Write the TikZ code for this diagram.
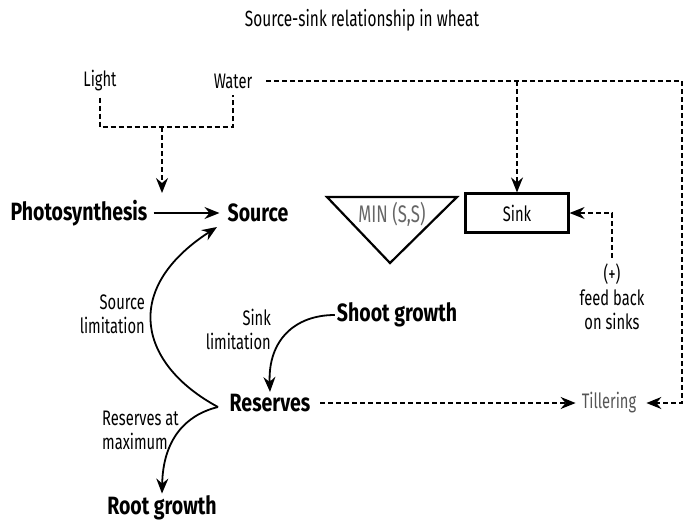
\documentclass[tikz,border=0pt]{standalone}
\usepackage{fontspec}
\setmainfont{Fira Sans}[FakeStretch=0.7, BoldFeatures={FakeStretch=0.78}]
\usetikzlibrary{arrows.meta}
\definecolor{tillgray}{HTML}{555555}
\definecolor{mingray}{HTML}{666666}
\tikzset{
  bigtext/.style={font=\bfseries\fontsize{25}{27}\selectfont, inner sep=2pt},
  plaintext/.style={font=\fontsize{21}{23}\selectfont, inner sep=2pt},
  notetext/.style={font=\fontsize{21}{24}\selectfont, inner sep=1pt},
  boxline/.style={line width=2.2pt},
  solidarrow/.style={line width=1.8pt, -{Stealth[length=15pt,width=12pt,inset=5pt]}},
  dashline/.style={line width=1.8pt, dash pattern=on 5pt off 3pt},
  dasharrow/.style={dashline, -{Stealth[length=15pt,width=12pt,inset=5pt]}},
}
\begin{document}
\begin{tikzpicture}[x=1pt, y=-1pt]
    \useasboundingbox (0,0) rectangle (689,523);

    % Titulo
    \node[plaintext, font=\fontsize{22}{24}\selectfont] (title) at (362,20)
         {Source-sink relationship in wheat};

    % Luz y agua
    \node[plaintext] (light) at (100,81) {Light};
    \node[plaintext] (water) at (233,81) {Water};
    \coordinate (bracketmid) at (162,127);
    \coordinate (photoin) at (162,193);
    \draw[dashline] ([yshift=-4pt]light.south) |- (bracketmid) -| ([yshift=-4pt]water.south);
    \draw[dasharrow] (bracketmid) -- (photoin);

    % Fuente
    \node[bigtext] (photo) at (79,213) {Photosynthesis};
    \node[bigtext] (source) at (258,213) {Source};
    \draw[solidarrow] ([xshift=4pt]photo.east) -- ([xshift=-6pt]source.west);

    % MIN (S,S) y sumidero
    \draw[boxline] (327,197) -- (457,197) -- (390,263) -- cycle;
    \node[plaintext, text=mingray, font=\fontsize{24}{26}\selectfont] (minss) at (392,214) {MIN (S,S)};
    \node[plaintext, draw, boxline, minimum width=103pt, minimum height=39pt] (sink) at (517,213) {Sink};

    % Linea de agua hacia sink y tillering
    \node[plaintext, text=tillgray] (tiller) at (609,403) {Tillering};
    \coordinate (rcorner) at (682,403);
    \draw[dasharrow, shorten >=8pt] ([xshift=12pt]water.east) -| (rcorner) -- (tiller.east);
    \draw[dasharrow] (water.east -| sink.north) -- (sink.north);

    % Realimentacion
    \node[notetext, align=center] (feedback) at (612,297) {(+)\\feed back\\on sinks};
    \draw[dasharrow] ([yshift=5pt]feedback.north) |- (sink.east);

    % Reservas
    \node[bigtext] (reserves) at (270,403) {Reserves};
    \node[bigtext] (shoot) at (397,315) {Shoot growth};
    \node[bigtext] (root) at (162,508) {Root growth};
    \coordinate (cusp) at (218,407);
    \draw[dasharrow, shorten >=4pt] ([xshift=8pt]reserves.east) -- (tiller.west);

    % Curvas de limitacion
    \draw[solidarrow] (cusp) .. controls (140,365) and (120,290) .. (217,227);
    \draw[solidarrow] (cusp) .. controls (185,415) and (163,440) .. (root.north);
    \draw[solidarrow] (shoot.west) .. controls (295,315) and (268,340) .. (reserves.north);
    \node[notetext, align=right, anchor=east] (srclim) at (146,314) {Source\\limitation};
    \node[notetext, align=right, anchor=east] (sinklim) at (272,329) {Sink\\limitation};
    \node[notetext, align=left, anchor=west] (resmax) at (101,430) {Reserves at\\maximum};
\end{tikzpicture}
\end{document}
